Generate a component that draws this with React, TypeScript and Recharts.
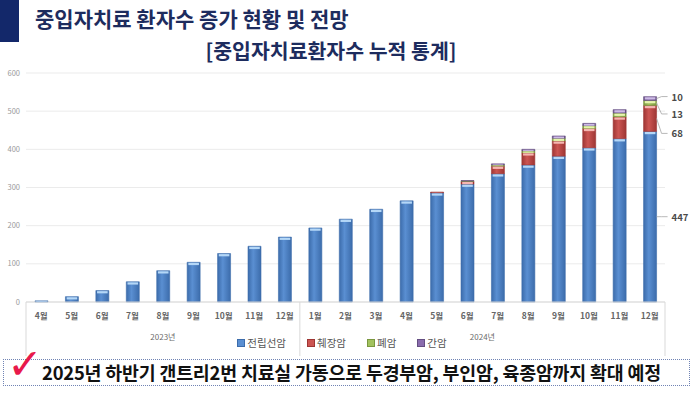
import { Bar, BarChart, CartesianGrid, LabelList, XAxis, YAxis } from 'recharts';

const MONTHS = [
  '4월', '5월', '6월', '7월', '8월', '9월', '10월', '11월', '12월',
  '1월', '2월', '3월', '4월', '5월', '6월', '7월', '8월', '9월', '10월', '11월', '12월',
];
const YEARS = [
  '2023년', '2023년', '2023년', '2023년', '2023년', '2023년', '2023년', '2023년', '2023년',
  '2024년', '2024년', '2024년', '2024년', '2024년', '2024년', '2024년', '2024년', '2024년', '2024년', '2024년', '2024년',
];
const PROSTATE = [3, 14, 30, 53, 82, 104, 127, 146, 170, 194, 217, 243, 265, 286, 309, 336, 359, 382, 404, 428, 447];
const PANCREAS = [0, 0, 0, 0, 0, 0, 0, 0, 0, 0, 0, 0, 0, 2, 7, 20, 32, 40, 51, 57, 68];
const LUNG = [0, 0, 0, 0, 0, 0, 0, 0, 0, 0, 0, 0, 0, 0, 1, 3, 5, 7, 7, 10, 13];
const LIVER = [0, 0, 0, 0, 0, 0, 0, 0, 0, 0, 0, 0, 0, 0, 1, 3, 4, 6, 6, 9, 10];
const Y_TICKS = [0, 100, 200, 300, 400, 500, 600];

const SERIES = [
  { key: 'prostate', name: '전립선암', color: '#5a8fd2', dark: '#3c6cab', light: '#b4d7f7', dy: 0 },
  { key: 'pancreas', name: '췌장암', color: '#cc5552', dark: '#9e3634', light: '#f5b6b2', dy: 15 },
  { key: 'lung', name: '폐암', color: '#a2c25e', dark: '#7a973f', light: '#e6f5ad', dy: 11 },
  { key: 'liver', name: '간암', color: '#8a6cae', dark: '#644e82', light: '#cdbbe6', dy: -2 },
];

const data = MONTHS.map((month, i) => ({
  month,
  year: YEARS[i],
  prostate: PROSTATE[i],
  pancreas: PANCREAS[i],
  lung: LUNG[i],
  liver: LIVER[i],
}));

const W = 700;
const H = 393;
const MARGIN = { top: 73, right: 35, bottom: 31, left: 0 };
const Y_AXIS_W = 26;
const BAND = (W - MARGIN.right - MARGIN.left - Y_AXIS_W) / MONTHS.length;
const LAST_CENTER = MARGIN.left + Y_AXIS_W + BAND * (MONTHS.length - 0.5);
const FONT = '"Noto Sans CJK KR", "Noto Sans", sans-serif';

function MonthTick(props: any) {
  const { x, y, payload } = props;
  const i = payload.index;
  const yr = YEARS[i];
  const first = i === 0 || YEARS[i - 1] !== yr;
  const isLast = i === MONTHS.length - 1;
  let end = i;
  while (end + 1 < YEARS.length && YEARS[end + 1] === yr) end++;
  const groupCenter = x + ((i + end) / 2 - i) * BAND;
  return (
    <g>
      <text x={x} y={y + 17} textAnchor="middle" fontSize={8.5} fontWeight={700} fill="#666" fontFamily={FONT}>
        {payload.value}
      </text>
      {first && (
        <>
          <line x1={x - BAND / 2} x2={x - BAND / 2} y1={y} y2={y + 54} stroke="#d9d9d9" />
          <text x={groupCenter} y={y + 38} textAnchor="middle" fontSize={8} fill="#6b6b6b" fontFamily={FONT}>
            {yr}
          </text>
        </>
      )}
      {isLast && <line x1={x + BAND / 2} x2={x + BAND / 2} y1={y} y2={y + 54} stroke="#d9d9d9" />}
    </g>
  );
}

// light cap at the top of every segment, plus leader label on the last bar
function makeSegmentDecor(s: (typeof SERIES)[number]) {
  return (props: any) => {
    const { value } = props;
    const rx = Number(props.x);
    const ry = Number(props.y);
    const rw = Number(props.width);
    const rh = Number(props.height);
    const top = rh < 0 ? ry + rh : ry;
    const h = Math.abs(rh);
    if (!h) return null;
    const capH = Math.min(2.2, h - 0.6);
    let leader = null;
    if (Math.abs(rx + rw / 2 - LAST_CENTER) < 1) {
      const x0 = rx + rw;
      const y0 = top + h / 2;
      const y1 = y0 + s.dy;
      leader = (
        <g>
          <polyline points={`${x0},${y0} ${x0 + 5},${y1} ${x0 + 11},${y1}`} fill="none" stroke="#a6a6a6" strokeWidth={0.8} />
          <text x={x0 + 15} y={y1} dominantBaseline="central" fontSize={9.5} fontWeight={700} fill="#4a4a4a" fontFamily={FONT}>
            {value}
          </text>
        </g>
      );
    }
    return (
      <g>
        {capH > 0 && <rect x={rx + 1.2} y={top + 0.6} width={rw - 2.4} height={capH} fill={s.light} />}
        {leader}
      </g>
    );
  };
}

export default function App() {
  return (
    <div style={{ position: 'absolute', left: 0, top: 0, width: W, height: H, background: '#fff', overflow: 'hidden', fontFamily: FONT }}>
      <svg width={0} height={0} style={{ position: 'absolute' }}>
        <defs>
          {SERIES.map((s) => (
            <linearGradient key={s.key} id={`grad-${s.key}`} x1="0" y1="0" x2="1" y2="0">
              <stop offset="0%" stopColor={s.dark} />
              <stop offset="40%" stopColor={s.color} />
              <stop offset="100%" stopColor={s.dark} />
            </linearGradient>
          ))}
        </defs>
      </svg>
      <BarChart width={W} height={H} data={data} margin={MARGIN} barSize={13}>
        <CartesianGrid vertical={false} stroke="#ebebeb" />
        <XAxis
          dataKey="month"
          height={60}
          interval={0}
          tickSize={0}
          tickMargin={0}
          axisLine={{ stroke: '#d9d9d9' }}
          tick={<MonthTick />}
        />
        <YAxis
          width={Y_AXIS_W}
          domain={[0, 600]}
          ticks={Y_TICKS}
          tickSize={0}
          tickMargin={6}
          axisLine={false}
          tick={{ fontSize: 7.5, fill: '#9a9a9a', fontFamily: FONT }}
        />
        {SERIES.map((s) => (
          <Bar
            key={s.key}
            dataKey={s.key}
            name={s.name}
            stackId="a"
            fill={`url(#grad-${s.key})`}
            stroke={s.dark}
            strokeWidth={0.6}
            isAnimationActive={false}
          >
            <LabelList dataKey={s.key} content={makeSegmentDecor(s)} />
          </Bar>
        ))}
      </BarChart>

      <div style={{ position: 'absolute', left: 0, top: 0, width: 19, height: 42, background: '#13286a' }} />
      <div style={{ position: 'absolute', left: 35, top: 3, fontSize: 21, fontWeight: 700, color: '#1d2c5e', whiteSpace: 'nowrap', lineHeight: '30px' }}>
        중입자치료 환자수 증가 현황 및 전망
      </div>
      <div style={{ position: 'absolute', left: 0, width: 662, top: 36, textAlign: 'center', fontSize: 20.5, fontWeight: 700, color: '#1d2c5e', whiteSpace: 'nowrap', lineHeight: '28px' }}>
        [중입자치료환자수 누적 통계]
      </div>

      <div style={{ position: 'absolute', left: 0, width: 684, top: 335, display: 'flex', justifyContent: 'center', gap: 21, fontSize: 10.5, color: '#555', lineHeight: '16px' }}>
        {SERIES.map((s) => (
          <div key={s.key} style={{ display: 'flex', alignItems: 'center' }}>
            <span style={{ display: 'inline-block', width: 6, height: 6, marginRight: 2, background: s.color, border: `1px solid ${s.dark}` }} />
            {s.name}
          </div>
        ))}
      </div>

      <div style={{ position: 'absolute', left: 3, top: 359, width: 685, height: 25, border: '1.5px dotted #7083b4' }} />
      <div style={{ position: 'absolute', left: 7, top: 341, fontSize: 43, fontWeight: 700, color: '#e8194b', fontFamily: '"DejaVu Sans", sans-serif', lineHeight: '46px' }}>
        ✓
      </div>
      <div style={{ position: 'absolute', left: 42, top: 358, fontSize: 18.4, fontWeight: 700, color: '#111', whiteSpace: 'nowrap', lineHeight: '29px', letterSpacing: -0.2 }}>
        2025년 하반기 갠트리2번 치료실 가동으로 두경부암, 부인암, 육종암까지 확대 예정
      </div>
    </div>
  );
}
